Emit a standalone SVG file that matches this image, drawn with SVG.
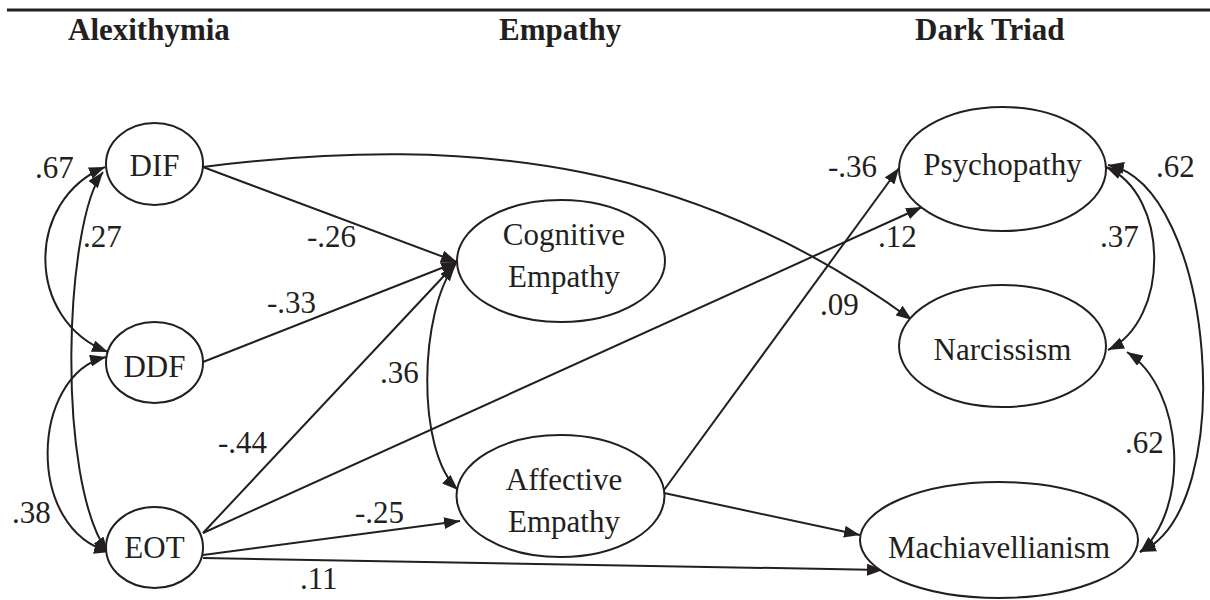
<svg xmlns="http://www.w3.org/2000/svg" width="1210" height="600" viewBox="0 0 1210 600" font-family="Liberation Serif, serif">
<defs>
<marker id="ah" viewBox="0 0 16 12" refX="16" refY="6" markerWidth="16" markerHeight="12" markerUnits="userSpaceOnUse" orient="auto-start-reverse">
<path d="M0,0 L16,6 L0,12 Z" fill="#231f20"/>
</marker>
<style>
.n ellipse{fill:#fff;stroke:#231f20;stroke-width:2}
text{fill:#231f20}
.h{font-size:31px;font-weight:bold}
.t{font-size:31px;text-anchor:middle}
.l{font-size:31px}
.c path{fill:none;stroke:#231f20;stroke-width:2}
.e{marker-end:url(#ah)}
.b{marker-start:url(#ah);marker-end:url(#ah)}
</style>
</defs>
<rect width="1210" height="600" fill="#fff"/>
<line x1="7" y1="10" x2="1210" y2="10" stroke="#231f20" stroke-width="3"/>
<g id="headers" font-family="Liberation Serif, serif">
<text class="h" x="68" y="40">Alexithymia</text>
<text class="h" x="499" y="40">Empathy</text>
<text class="h" x="915" y="40">Dark Triad</text>
</g>

<g class="c" id="connectors">
<path class="e" d="M203,167 C480,132 700,165 912,320"/>
<path class="e" d="M203,167 L457,262"/>
<path class="e" d="M203,362 L457,262"/>
<path class="e" d="M203,533 L457,262"/>
<path class="e" d="M203,533 L922,207"/>
<path class="e" d="M203,555 L460,521"/>
<path class="e" d="M203,558 L883,570"/>
<path class="e" d="M664,490 L899,168"/>
<path class="e" d="M664,493 L860,535"/>
<path class="b" d="M105,167 C25,200 25,320 108,352"/>
<path class="b" d="M106,357 C30,375 25,530 110,552"/>
<path class="b" d="M103,172 C65,220 55,480 108,553"/>
<path class="b" d="M455,265 C420,310 415,450 458,490"/>
<path class="b" d="M1106,167 C1170,195 1170,320 1108,350"/>
<path class="b" d="M1108,165 C1215,185 1240,510 1140,552"/>
<path class="b" d="M1127,352 C1185,390 1190,510 1140,552"/>
</g>

<g class="n" id="DIF" font-family="Liberation Serif, serif"><ellipse cx="154.5" cy="164" rx="48.5" ry="41"/><text class="t" x="154.5" y="176">DIF</text></g>
<g class="n" id="DDF" font-family="Liberation Serif, serif"><ellipse cx="154.5" cy="362.5" rx="48.5" ry="40.5"/><text class="t" x="154.5" y="377">DDF</text></g>
<g class="n" id="EOT" font-family="Liberation Serif, serif"><ellipse cx="154.5" cy="547.5" rx="48.5" ry="40.5"/><text class="t" x="154.5" y="558">EOT</text></g>
<g class="n" id="CognitiveEmpathy" font-family="Liberation Serif, serif"><ellipse cx="561" cy="261" rx="104" ry="61"/><text class="t" x="564" y="245">Cognitive</text><text class="t" x="564" y="287">Empathy</text></g>
<g class="n" id="AffectiveEmpathy" font-family="Liberation Serif, serif"><ellipse cx="560.5" cy="496" rx="104" ry="61"/><text class="t" x="564" y="490">Affective</text><text class="t" x="564" y="532">Empathy</text></g>
<g class="n" id="Psychopathy" font-family="Liberation Serif, serif"><ellipse cx="1002.5" cy="169" rx="103.5" ry="62"/><text class="t" x="1002.5" y="175">Psychopathy</text></g>
<g class="n" id="Narcissism" font-family="Liberation Serif, serif"><ellipse cx="1002.5" cy="346" rx="103.5" ry="61"/><text class="t" x="1002.5" y="360">Narcissism</text></g>
<g class="n" id="Machiavellianism" font-family="Liberation Serif, serif"><ellipse cx="999" cy="540" rx="139" ry="58"/><text class="t" x="999" y="558">Machiavellianism</text></g>

<g id="labels" font-family="Liberation Serif, serif">
<text class="l" x="35" y="178">.67</text>
<text class="l" x="83" y="247">.27</text>
<text class="l" x="307" y="247">-.26</text>
<text class="l" x="267" y="313">-.33</text>
<text class="l" x="12" y="523">.38</text>
<text class="l" x="218" y="453">-.44</text>
<text class="l" x="355" y="523">-.25</text>
<text class="l" x="300" y="589">.11</text>
<text class="l" x="380" y="383">.36</text>
<text class="l" x="828" y="177">-.36</text>
<text class="l" x="878" y="247">.12</text>
<text class="l" x="820" y="315">.09</text>
<text class="l" x="1100" y="247">.37</text>
<text class="l" x="1156" y="177">.62</text>
<text class="l" x="1125" y="453">.62</text>
</g>
</svg>
